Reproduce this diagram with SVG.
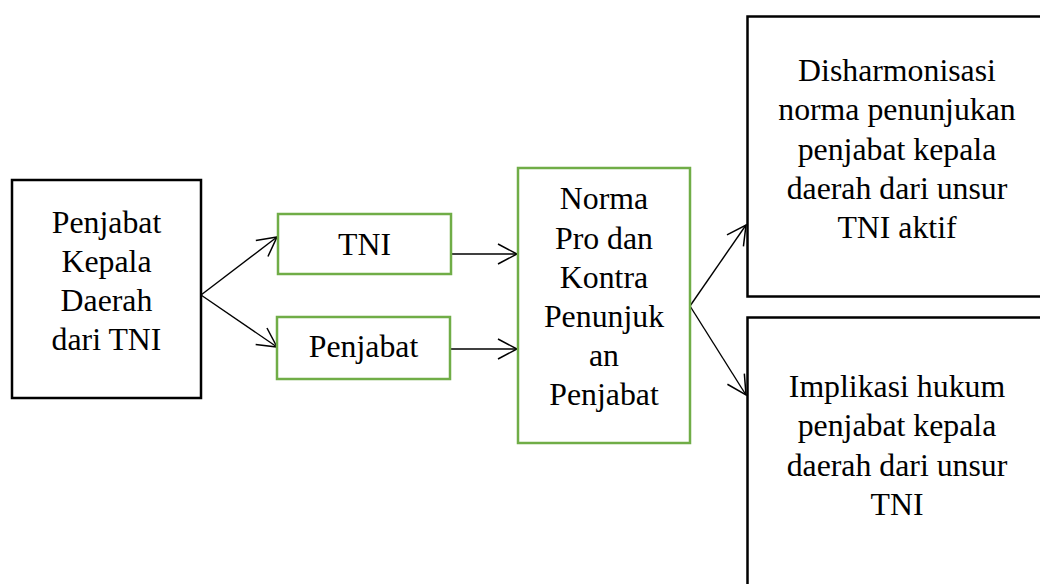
<svg xmlns="http://www.w3.org/2000/svg" width="1040" height="584" viewBox="0 0 1040 584">
<style>
.t{font-family:'Liberation Serif','Times New Roman',Times,serif;font-size:31.8px;fill:#000;text-anchor:middle}
.bk{fill:#fff;stroke:#000;stroke-width:2.5}
.gr{fill:#fff;stroke:#70AD47;stroke-width:2.5}
.c{fill:none;stroke:#000;stroke-width:1.4}
</style>
<defs>
<marker id="ah" markerUnits="userSpaceOnUse" markerWidth="24" markerHeight="24" viewBox="-21 -12 23 24" refX="0" refY="0" orient="auto">
<path d="M-19,-10 L0,0 L-19,10" fill="none" stroke="#000" stroke-width="1.5"/>
</marker>
</defs>
<rect width="1040" height="584" fill="#fff"/>
<g id="connectors">
<line class="c" x1="201" y1="295" x2="277" y2="237" marker-end="url(#ah)"/>
<line class="c" x1="201" y1="295" x2="277" y2="347" marker-end="url(#ah)"/>
<line class="c" x1="451" y1="254" x2="517" y2="254" marker-end="url(#ah)"/>
<line class="c" x1="451" y1="349" x2="517" y2="349" marker-end="url(#ah)"/>
<line class="c" x1="690" y1="306" x2="746" y2="225" marker-end="url(#ah)"/>
<line class="c" x1="690" y1="306" x2="746" y2="395" marker-end="url(#ah)"/>
</g>
<g id="node-penjabat-kepala">
<rect class="bk" x="12" y="180" width="189" height="218"/>
<text class="t" x="106.5" y="233">Penjabat</text>
<text class="t" x="106.5" y="272">Kepala</text>
<text class="t" x="106.5" y="311">Daerah</text>
<text class="t" x="106.5" y="350">dari TNI</text>
</g>
<g id="node-tni">
<rect class="gr" x="278" y="214" width="173" height="60"/>
<text class="t" x="364.5" y="255">TNI</text>
</g>
<g id="node-penjabat">
<rect class="gr" x="277" y="317" width="173" height="62"/>
<text class="t" x="363.5" y="357">Penjabat</text>
</g>
<g id="node-norma">
<rect class="gr" x="518" y="168" width="172" height="275"/>
<text class="t" x="604" y="209">Norma</text>
<text class="t" x="604" y="249">Pro dan</text>
<text class="t" x="604" y="288">Kontra</text>
<text class="t" x="604" y="327">Penunjuk</text>
<text class="t" x="604" y="366">an</text>
<text class="t" x="604" y="405">Penjabat</text>
</g>
<g id="node-disharmonisasi">
<rect class="bk" x="747.5" y="16.5" width="305" height="280"/>
<text class="t" x="897" y="81">Disharmonisasi</text>
<text class="t" x="897" y="120">norma penunjukan</text>
<text class="t" x="897" y="160">penjabat kepala</text>
<text class="t" x="897" y="199">daerah dari unsur</text>
<text class="t" x="897" y="238">TNI aktif</text>
</g>
<g id="node-implikasi">
<rect class="bk" x="747.5" y="317.5" width="305" height="290"/>
<text class="t" x="897" y="397">Implikasi hukum</text>
<text class="t" x="897" y="436">penjabat kepala</text>
<text class="t" x="897" y="476">daerah dari unsur</text>
<text class="t" x="897" y="515">TNI</text>
</g>
</svg>
